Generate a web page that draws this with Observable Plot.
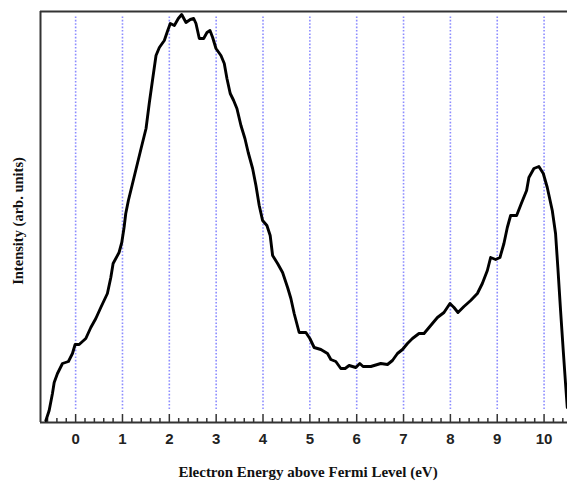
<!DOCTYPE html>
<html>
<head>
<meta charset="utf-8">
<script src="https://cdn.jsdelivr.net/npm/d3@7"></script>
<script src="https://cdn.jsdelivr.net/npm/@observablehq/plot@0.6"></script>
<style>
  html, body { margin: 0; padding: 0; background: #fff; }
  #chart svg { display: block; }
</style>
</head>
<body>
<div id="chart"></div>
<script>
// Electron energy above Fermi level (eV)
const energy = [
  -0.635, -0.565, -0.495, -0.458, -0.388, -0.281, -0.154, -0.068, -0.011, 0.075,
  0.217, 0.324, 0.431, 0.537, 0.678, 0.751, 0.80, 0.927, 0.985, 1.034,
  1.07, 1.126, 1.397, 1.503, 1.574, 1.646, 1.716, 1.787, 1.893, 1.966,
  2.021, 2.107, 2.192, 2.264, 2.356, 2.448, 2.52, 2.569, 2.64, 2.733,
  2.804, 2.868, 2.925, 2.996, 3.102, 3.173, 3.23, 3.30, 3.373, 3.443,
  3.529, 3.614, 3.684, 3.778, 3.849, 3.919, 3.991, 4.083, 4.153, 4.205,
  4.311, 4.418, 4.525, 4.595, 4.665, 4.772, 4.915, 5.0, 5.092, 5.235,
  5.377, 5.448, 5.554, 5.661, 5.753, 5.838, 5.981, 6.066, 6.136, 6.301,
  6.514, 6.657, 6.763, 6.87, 6.977, 7.083, 7.19, 7.33, 7.437, 7.544,
  7.723, 7.863, 7.991, 8.077, 8.162, 8.29, 8.433, 8.576, 8.682, 8.789,
  8.859, 8.966, 9.058, 9.143, 9.215, 9.286, 9.414, 9.514, 9.627, 9.676,
  9.783, 9.889, 9.983, 10.068, 10.175, 10.245, 10.294, 10.352, 10.409, 10.458,
  10.495
];
// Intensity (arbitrary units)
const intensity = [
  2, 12, 29, 40, 49, 59, 61, 69, 78, 78,
  84, 95, 104, 115, 129, 145, 159, 170, 180, 195,
  209, 222, 274, 294, 320, 344, 367, 375, 382, 392,
  399, 397, 404, 408, 400, 403, 404, 399, 384, 384,
  390, 392, 385, 374, 367, 359, 344, 329, 322, 314,
  297, 284, 270, 254, 237, 217, 202, 197, 187, 167,
  159, 150, 135, 124, 109, 90, 90, 84, 75, 73,
  69, 63, 61, 54, 54, 57, 55, 59, 56, 56,
  59, 58, 62, 69, 73, 79, 84, 89, 89, 95,
  105, 110, 119, 115, 110, 116, 122, 129, 139, 152,
  165, 163, 165, 179, 195, 207, 207, 219, 232, 245,
  254, 256, 249, 235, 212, 189, 155, 112, 72, 39,
  15
];
const majorTicks = [0, 1, 2, 3, 4, 5, 6, 7, 8, 9, 10];
const tickLabels = ["0", "1", "2", "3", "4", "5", "6", "7", "8", "9", "10"];
const xTitle = "Electron Energy above Fermi Level (eV)";
const yTitle = "Intensity (arb. units)";

const spectrum = energy.map((e, i) => ({e, v: intensity[i]}));
const minorTicks = d3.range(-3, 53).map(k => k / 5).filter(t => Math.abs(t - Math.round(t)) > 1e-9);

const xMin = -0.75, xMax = 10.5, yMax = 411;
const axisColor = "#333";

const chart = Plot.plot({
  width: 567,
  height: 483,
  marginLeft: 40,
  marginRight: 0,
  marginTop: 11,
  marginBottom: 61,
  x: {domain: [xMin, xMax]},
  y: {domain: [0, yMax]},
  style: {background: "#fff", overflow: "visible"},
  marks: [
    // dotted vertical gridlines
    Plot.ruleX(majorTicks, {y1: 13, y2: 406, stroke: "#7f7fff", strokeWidth: 1.6, strokeDasharray: "1.6,1.8", strokeOpacity: 0.9}),
    // frame: left, top, bottom
    Plot.ruleX([xMin], {stroke: axisColor, strokeWidth: 2}),
    Plot.ruleY([yMax], {stroke: axisColor, strokeWidth: 2}),
    Plot.ruleY([0], {stroke: axisColor, strokeWidth: 2}),
    // inward ticks
    Plot.ruleX(majorTicks, {y1: 0, y2: 8, stroke: axisColor, strokeWidth: 1.5}),
    Plot.ruleX(minorTicks, {y1: 0, y2: 4, stroke: axisColor, strokeWidth: 1.5}),
    // tick labels
    Plot.axisX(majorTicks, {
      tickSize: 0, tickPadding: 11, tickFormat: (d, i) => tickLabels[i],
      fontSize: 15, fontWeight: "bold", fontFamily: "Liberation Sans, Arial, sans-serif",
      fill: "#222", label: null
    }),
    Plot.axisY({ticks: [], label: null}),
    // the spectrum
    Plot.line(spectrum, {x: "e", y: "v", stroke: "#000", strokeWidth: 2.9, strokeLinejoin: "round"}),
    // axis titles
    Plot.text([xTitle], {
      frameAnchor: "bottom", dy: 54, dx: 4, fontSize: 15, fontWeight: "bold",
      fontFamily: "Liberation Serif, Times New Roman, serif", fill: "#111"
    }),
    Plot.text([yTitle], {
      frameAnchor: "left", textAnchor: "middle", dx: -22, dy: 4, rotate: -90, fontSize: 14.5, fontWeight: "bold",
      fontFamily: "Liberation Serif, Times New Roman, serif", fill: "#111"
    })
  ]
});
document.getElementById("chart").appendChild(chart);
</script>
</body>
</html>
